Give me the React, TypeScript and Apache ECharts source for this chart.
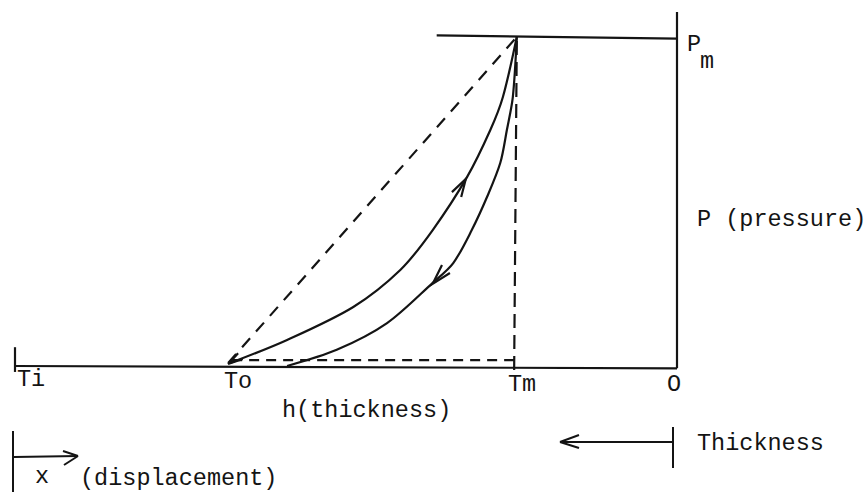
import React, { useEffect, useRef } from "react";
import * as echarts from "echarts";

// Data units: x = position along thickness axis (Ti = 0, O = 100), y = pressure (0 .. Pm = 100)
const loadingX = [32.5, 41.1, 51.1, 58.2, 63.1, 68.3, 71.8, 73.7, 75.8];
const loadingY = [1.2, 8.2, 18.2, 29.4, 41.5, 57.6, 71.8, 81.8, 100];
const unloadingX = [75.8, 75.2, 74.3, 73.3, 71.3, 69.0, 66.2, 63.1, 56.2, 48.6, 41.1];
const unloadingY = [100, 81.8, 71.8, 61.8, 51.5, 41.5, 31.5, 25.5, 13.3, 5.2, 0.3];
const diagonalX = [32.2, 75.8];
const diagonalY = [1.2, 100];
const floorDashX = [32.8, 75.4];
const floorDashY = [2.1, 2.1];
const tmDashX = [75.4, 75.8];
const tmDashY = [-0.9, 99];
const baselineX = [0, 100];
const baselineY = [0.3, -0.4];
const topLineX = [63.7, 100];
const topLineY = [100.5, 99.5];
const pAxisX = [100, 100];
const pAxisY = [-0.4, 107.6];
const tiTickX = [0, 0];
const tiTickY = [-1.5, 6];
const upArrowX = [66.0, 68.1, 67.4];
const upArrowY = [53.0, 57.0, 51.5];
const downArrowX = [64.5, 63.1, 65.7];
const downArrowY = [30.9, 25.2, 28.5];
const toArrowX = [33.7, 32.2, 34.4];
const toArrowY = [4.2, 0.9, 2.4];

const INK = "#141414";

const zip = (xs: number[], ys: number[]) => xs.map((x, i) => [x, ys[i]]);

function lineSeries(xs: number[], ys: number[], opts: any = {}) {
  return {
    type: "line",
    data: zip(xs, ys),
    showSymbol: false,
    symbol: "none",
    clip: false,
    silent: true,
    smooth: opts.smooth ?? false,
    lineStyle: {
      color: INK,
      width: opts.width ?? 2.2,
      type: opts.dash ?? "solid",
      cap: "butt",
      join: "miter",
    },
    z: 3,
  };
}

function txt(text: string, x: number, y: number, size = 23.5) {
  return {
    type: "text",
    x,
    y,
    silent: true,
    style: {
      text,
      fill: INK,
      font: `${size}px "Liberation Mono", "DejaVu Sans Mono", monospace`,
      align: "left",
      verticalAlign: "middle",
    },
  };
}

function seg(x1: number, y1: number, x2: number, y2: number) {
  return {
    type: "line",
    silent: true,
    shape: { x1, y1, x2, y2 },
    style: { stroke: INK, lineWidth: 2 },
  };
}

export default function App() {
  const ref = useRef<HTMLDivElement>(null);
  useEffect(() => {
    if (!ref.current) return;
    const chart = echarts.init(ref.current, null, { renderer: "svg" });
    chart.setOption({
      animation: false,
      backgroundColor: "#ffffff",
      grid: { left: 15, right: 189, top: 37, bottom: 128 },
      xAxis: { type: "value", min: 0, max: 100, show: false },
      yAxis: { type: "value", min: 0, max: 100, show: false },
      series: [
        lineSeries(baselineX, baselineY),
        lineSeries(topLineX, topLineY),
        lineSeries(pAxisX, pAxisY),
        lineSeries(tiTickX, tiTickY),
        lineSeries(loadingX, loadingY, { smooth: 0.3 }),
        lineSeries(unloadingX, unloadingY, { smooth: 0.3 }),
        lineSeries(diagonalX, diagonalY, { dash: [12, 9] }),
        lineSeries(floorDashX, floorDashY, { dash: [10, 7] }),
        lineSeries(tmDashX, tmDashY, { dash: [14, 7] }),
        lineSeries(upArrowX, upArrowY),
        lineSeries(downArrowX, downArrowY),
        lineSeries(toArrowX, toArrowY),
      ],
      graphic: [
        txt("P", 687, 44),
        txt("m", 700, 61),
        txt("P (pressure)", 697, 219),
        txt("Ti", 17, 379),
        txt("To", 224, 381),
        txt("Tm", 508, 384),
        txt("O", 667, 384),
        txt("h(thickness)", 282, 410),
        txt("Thickness", 697, 443),
        txt("x", 35, 476),
        txt("(displacement)", 80, 478),
        // Thickness direction arrow
        seg(560, 442, 673, 442),
        seg(560, 442, 579, 435),
        seg(560, 442, 579, 448),
        seg(673, 427, 673, 468),
        // displacement arrow
        seg(13, 431, 13, 492),
        seg(14, 457, 78, 456),
        seg(78, 456, 63, 451),
        seg(78, 456, 64, 465),
      ],
    });
    return () => chart.dispose();
  }, []);
  return (
    <div
      ref={ref}
      style={{ position: "fixed", left: 0, top: 0, width: 866, height: 495 }}
    />
  );
}
